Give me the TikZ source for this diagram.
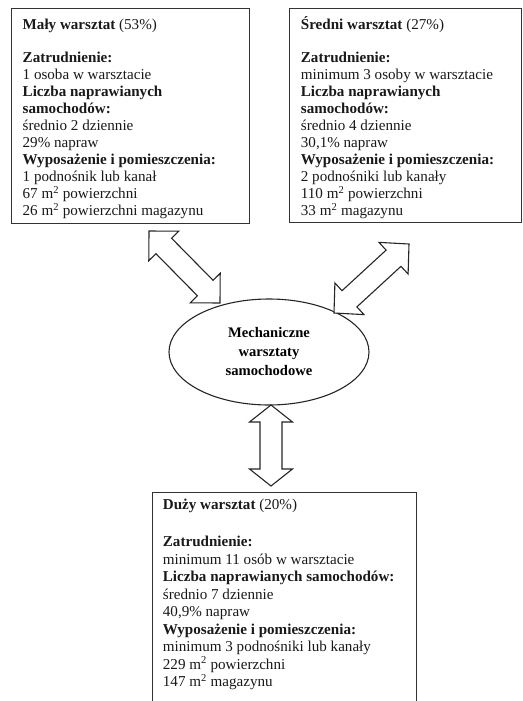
\documentclass[tikz,border=0pt]{standalone}
\usepackage{fontspec}
\setmainfont{Liberation Serif}
\usetikzlibrary{calc,shapes.geometric}
\newcommand\dblarr[5]{% start, end, shaft half width, head half width, head length
  \draw[arrowshape] (#1)
    -- ($(#1)!#5!(#2)!#4!90:(#2)$)
    -- ($(#1)!#5!(#2)!#3!90:(#2)$)
    -- ($(#2)!#5!(#1)!#3!-90:(#1)$)
    -- ($(#2)!#5!(#1)!#4!-90:(#1)$)
    -- (#2)
    -- ($(#2)!#5!(#1)!#4!90:(#1)$)
    -- ($(#2)!#5!(#1)!#3!90:(#1)$)
    -- ($(#1)!#5!(#2)!#3!-90:(#2)$)
    -- ($(#1)!#5!(#2)!#4!-90:(#2)$)
    -- cycle;}
\tikzset{
  box/.style={draw=black!80, line width=1.3pt, inner sep=0pt, anchor=north west},
  txt/.style={inner sep=0pt, anchor=north west, align=left, text=black!90,
              font=\fontsize{15.1}{17}\selectfont},
  bigtxt/.style={txt, font=\fontsize{15.1}{17.5}\selectfont},
  hub/.style={ellipse, draw=black!85, line width=1.1pt, inner sep=0pt,
              minimum width=200pt, minimum height=106pt, align=center,
              font=\fontsize{14.6}{19}\selectfont\bfseries},
  arrowshape/.style={draw=black!85, line width=1.1pt, line join=miter, fill=white}
}
\begin{document}
\begin{tikzpicture}[x=1pt,y=-1pt]
\useasboundingbox (0,0) rectangle (522,701);
% boxes
\node[box, minimum width=238pt, minimum height=215pt] (small) at (11,8) {};
\node[box, minimum width=231.5pt, minimum height=214pt] (medium) at (289,8) {};
\node[box, minimum width=264pt, minimum height=230pt] (large) at (152,492) {};
% texts
\node[txt] (smalltxt) at ($(small.north west)+(11.5,7.5)$) {\rule{0pt}{14pt}\textbf{Mały warsztat} (53\%)\\[15.7pt]
\textbf{Zatrudnienie:}\\
1 osoba w warsztacie\\
\textbf{Liczba naprawianych}\\
\textbf{samochodów:}\\
średnio 2 dziennie\\
29\% napraw\\
\textbf{Wyposażenie i pomieszczenia:}\\
1 podnośnik lub kanał\\
67 m\textsuperscript{2} powierzchni\\
26 m\textsuperscript{2} powierzchni magazynu};
\node[txt] (mediumtxt) at ($(medium.north west)+(11.7,7.5)$) {\rule{0pt}{14pt}\textbf{Średni warsztat} (27\%)\\[15.7pt]
\textbf{Zatrudnienie:}\\
minimum 3 osoby w warsztacie\\
\textbf{Liczba naprawianych}\\
\textbf{samochodów:}\\
średnio 4 dziennie\\
30,1\% napraw\\
\textbf{Wyposażenie i pomieszczenia:}\\
2 podnośniki lub kanały\\
110 m\textsuperscript{2} powierzchni\\
33 m\textsuperscript{2} magazynu};
\node[bigtxt] (largetxt) at ($(large.north west)+(10.7,3.5)$) {\rule{0pt}{14pt}\textbf{Duży warsztat} (20\%)\\[19.5pt]
\textbf{Zatrudnienie:}\\
minimum 11 osób w warsztacie\\
\textbf{Liczba naprawianych samochodów:}\\
średnio 7 dziennie\\
40,9\% napraw\\
\textbf{Wyposażenie i pomieszczenia:}\\
minimum 3 podnośniki lub kanały\\
229 m\textsuperscript{2} powierzchni\\
147 m\textsuperscript{2} magazynu};
% hub
\node[hub] (hub) at (269,352) {Mechaniczne\\warsztaty\\samochodowe};
% arrow end points
\coordinate (la) at (149,231);
\coordinate (lb) at (220,303);
\coordinate (ra) at (334,313);
\coordinate (rb) at (409,244);
\coordinate (ba) at (271,405);
\coordinate (bb) at (271,486);
\dblarr{la}{lb}{11pt}{21pt}{21pt}
\dblarr{ra}{rb}{11pt}{21.5pt}{21pt}
\dblarr{ba}{bb}{11pt}{21.5pt}{17pt}
\end{tikzpicture}
\end{document}
